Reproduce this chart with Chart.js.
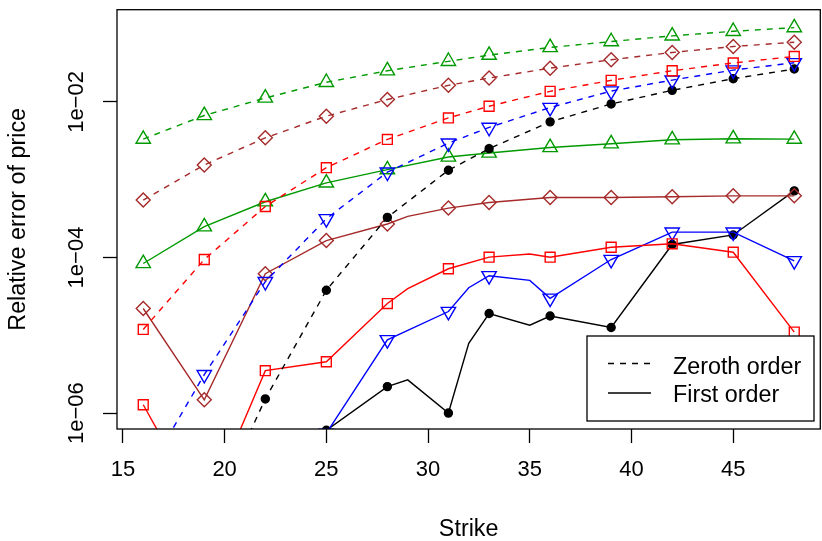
<!DOCTYPE html>
<html>
<head>
<meta charset="utf-8">
<script src="https://cdn.jsdelivr.net/npm/chart.js@4.4.1/dist/chart.umd.min.js"></script>
<style>
  html, body { margin: 0; padding: 0; background: #fff; overflow: hidden; }
  #errChart { display: block; }
</style>
</head>
<body>
<canvas id="errChart" width="830" height="541"></canvas>
<script>
// DATA
const strikes = [16, 19, 22, 25, 28, 29, 31, 32, 33, 35, 36, 39, 42, 45, 48];
const markedStrikes = [16, 19, 22, 25, 28, 31, 33, 36, 39, 42, 45, 48];
const xTicks = [15, 20, 25, 30, 35, 40, 45];
const yTicks = [1e-6, 1e-4, 1e-2];
const yTickLabels = ['1e\u221206', '1e\u221204', '1e\u221202'];
const legendLabels = ['Zeroth order', 'First order'];

// zeroth order (dashed)
const zerothGreen = [3.33e-3, 6.7e-3, 1.125e-2, 1.79e-2, 2.52e-2, null, 3.33e-2, null, 4.0e-2, null, 5.02e-2, 5.98e-2, 7.08e-2, 8.1e-2, 9.03e-2];
const zerothBrown = [5.47e-4, 1.549e-3, 3.46e-3, 6.56e-3, 1.074e-2, null, 1.636e-2, null, 2.03e-2, null, 2.72e-2, 3.49e-2, 4.33e-2, 5.16e-2, 5.86e-2];
const zerothRed   = [1.19e-5, 9.43e-5, 4.53e-4, 1.43e-3, 3.30e-3, null, 6.24e-3, null, 8.81e-3, null, 1.37e-2, 1.895e-2, 2.52e-2, 3.17e-2, 3.85e-2];
const zerothBlue  = [1.4e-7, 3.12e-6, 4.89e-5, 3.15e-4, 1.25e-3, null, 2.96e-3, null, 4.70e-3, null, 8.48e-3, 1.38e-2, 1.91e-2, 2.57e-2, 3.19e-2];
const zerothBlack = [null, 3.0e-8, 1.52e-6, 3.79e-5, 3.28e-4, null, 1.325e-3, null, 2.51e-3, null, 5.55e-3, 9.43e-3, 1.41e-2, 1.99e-2, 2.65e-2];

// first order (solid)
const firstGreen = [8.37e-5, 2.49e-4, 5.21e-4, 9.11e-4, 1.35e-3, null, 1.96e-3, null, 2.21e-3, null, 2.60e-3, 2.90e-3, 3.27e-3, 3.37e-3, 3.33e-3];
const firstBrown = [2.21e-5, 1.48e-6, 6.19e-5, 1.65e-4, 2.70e-4, 3.38e-4, 4.32e-4, null, 5.10e-4, null, 5.91e-4, 5.91e-4, 6.03e-4, 6.21e-4, 6.21e-4];
const firstRed   = [1.28e-6, 5e-8, 3.51e-6, 4.57e-6, 2.56e-5, 3.98e-5, 7.17e-5, null, 1.01e-4, 1.11e-4, 1.01e-4, 1.355e-4, 1.50e-4, 1.17e-4, 1.10e-5];
const firstBlue  = [null, null, null, 5.5e-7, 8.75e-6, null, 2.02e-5, 4.09e-5, 5.83e-5, 5.08e-5, 2.99e-5, 9.43e-5, 2.12e-4, 2.12e-4, 9.08e-5];
const firstBlack = [null, null, null, 6.0e-7, 2.19e-6, 2.67e-6, 1.0e-6, 7.87e-6, 1.905e-5, 1.35e-5, 1.77e-5, 1.26e-5, 1.47e-4, 1.95e-4, 7.20e-4];

const GREEN = '#009A00', BROWN = '#A52A2A', RED = '#FF0000', BLUE = '#0000FF', BLACK = '#000000';
const FONT = "'Liberation Sans', Arial, Helvetica, sans-serif";
const LW = 1.4;

function series(values, color, style, radius, dashed, filled, rotation) {
  return {
    data: strikes.map((s, i) => ({ x: s, y: values[i] })),
    borderColor: color,
    borderWidth: LW,
    borderDash: dashed ? [6, 6] : [],
    pointStyle: style,
    pointRotation: rotation || 0,
    pointRadius: c => markedStrikes.includes(strikes[c.dataIndex]) ? radius : 0,
    pointBorderColor: color,
    pointBorderWidth: LW,
    pointBackgroundColor: filled ? color : 'rgba(0,0,0,0)',
    spanGaps: true,
    tension: 0,
    clip: 0
  };
}

// frame + legend drawn on top
const framePlugin = {
  id: 'frame',
  afterDatasetsDraw(chart) {
    const { ctx, chartArea: a } = chart;
    ctx.save();
    ctx.strokeStyle = '#000';
    ctx.lineWidth = 1.3;
    ctx.strokeRect(a.left, a.top, a.right - a.left, a.bottom - a.top);

    // legend box
    ctx.fillStyle = '#fff';
    ctx.fillRect(587, 336, 227, 85);
    ctx.strokeRect(587, 336, 227, 85);
    ctx.lineWidth = LW;
    ctx.setLineDash([6, 6]);
    ctx.beginPath(); ctx.moveTo(608, 363.5); ctx.lineTo(651, 363.5); ctx.stroke();
    ctx.setLineDash([]);
    ctx.beginPath(); ctx.moveTo(608, 393); ctx.lineTo(651, 393); ctx.stroke();
    ctx.fillStyle = '#000';
    ctx.font = '23.3px ' + FONT;
    ctx.textBaseline = 'alphabetic';
    ctx.textAlign = 'left';
    ctx.fillText(legendLabels[0], 673, 373.5);
    ctx.fillText(legendLabels[1], 673, 401.5);
    ctx.restore();
  }
};

const config = {
  type: 'line',
  data: {
    datasets: [
      series(zerothGreen, GREEN, 'triangle', 8.3, true, false),
      series(zerothBrown, BROWN, 'rectRot', 7, true, false),
      series(zerothRed, RED, 'rect', 7, true, false),
      series(zerothBlue, BLUE, 'triangle', 8.3, true, false, 180),
      series(zerothBlack, BLACK, 'circle', 4, true, true),
      series(firstGreen, GREEN, 'triangle', 8.3, false, false),
      series(firstBrown, BROWN, 'rectRot', 7, false, false),
      series(firstRed, RED, 'rect', 7, false, false),
      series(firstBlue, BLUE, 'triangle', 8.3, false, false, 180),
      series(firstBlack, BLACK, 'circle', 4, false, true)
    ]
  },
  options: {
    responsive: false,
    animation: false,
    events: [],
    layout: { padding: { left: 0, top: 8, right: 5, bottom: 0 } },
    plugins: { legend: { display: false }, tooltip: { enabled: false } },
    scales: {
      x: {
        type: 'linear',
        min: 14.71,
        max: 49.28,
        afterBuildTicks: s => { s.ticks = xTicks.map(v => ({ value: v })); },
        afterFit: s => { s.height = 112; s.paddingLeft = 0; s.paddingRight = 0; },
        border: { display: false },
        grid: { drawOnChartArea: false, drawTicks: true, tickLength: 14, tickColor: '#000', tickWidth: 1.3 },
        ticks: { color: '#000', font: { family: FONT, size: 22 }, padding: 14, maxRotation: 0, autoSkip: false,
                 callback: v => String(v) },
        title: { display: true, text: 'Strike', color: '#000', font: { family: FONT, size: 23.3 },
                 padding: { top: 0, bottom: -3 } }
      },
      y: {
        type: 'logarithmic',
        min: 6.24e-7,
        max: 0.1535,
        afterBuildTicks: s => { s.ticks = yTicks.map(v => ({ value: v })); },
        afterFit: s => { s.width = 117; s.paddingTop = 0; s.paddingBottom = 0; },
        border: { display: false },
        grid: { drawOnChartArea: false, drawTicks: true, tickLength: 14, tickColor: '#000', tickWidth: 1.3 },
        ticks: { color: '#000', font: { family: FONT, size: 22 }, minRotation: 90, maxRotation: 90,
                 crossAlign: 'center', padding: -5, autoSkip: false,
                 callback: (v, i) => yTickLabels[i] },
        title: { display: true, text: 'Relative error of price', color: '#000', font: { family: FONT, size: 23.3 },
                 padding: { top: 5, bottom: 0 } }
      }
    }
  },
  plugins: [framePlugin]
};

const errChart = new Chart(document.getElementById('errChart'), config);
</script>
</body>
</html>
